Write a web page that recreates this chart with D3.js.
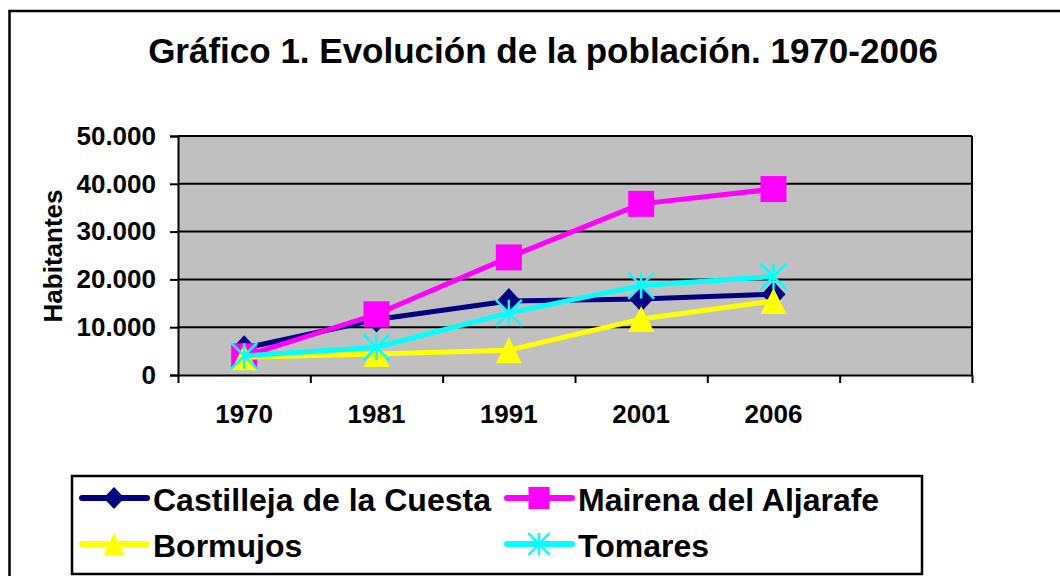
<!DOCTYPE html>
<html>
<head>
<meta charset="utf-8">
<script src="https://cdn.jsdelivr.net/npm/d3@7"></script>
<style>
  body { margin: 0; background: #fff; }
  text { font-family: Arial, "Liberation Sans", sans-serif; font-weight: bold; fill: #000; }
</style>
</head>
<body>
<div id="vis"></div>
<script>
// data
const years = ["1970", "1981", "1991", "2001", "2006"];
const slots = years.concat([""]);   // the original has one empty category at the end
const castilleja = [5600, 11600, 15500, 15900, 16900];
const mairena = [3900, 12700, 24600, 35800, 38900];
const bormujos = [3700, 4400, 5200, 11700, 15500];
const tomares = [4000, 5800, 13000, 18700, 20600];
const yTicks = [0, 10000, 20000, 30000, 40000, 50000];
const seriesNames = ["Castilleja de la Cuesta", "Mairena del Aljarafe", "Bormujos", "Tomares"];

const FRAME_WIDTH = 1060;
const FRAME_HEIGHT = 576;
const PLOT = {left: 178, right: 972, top: 136, bottom: 375};

const series = [
  {name: seriesNames[0], values: castilleja, color: "#000080", marker: "diamond"},
  {name: seriesNames[1], values: mairena, color: "#FF00FF", marker: "square"},
  {name: seriesNames[2], values: bormujos, color: "#FFFF00", marker: "triangle"},
  {name: seriesNames[3], values: tomares, color: "#00FFFF", marker: "star"}
];

const svg = d3.select("#vis")
              .append("svg")
                .attr("width", FRAME_WIDTH)
                .attr("height", FRAME_HEIGHT);

// outer chart frame (runs past the right and bottom edges)
svg.append("rect")
    .attr("x", 9.5).attr("y", 11)
    .attr("width", 1100).attr("height", 620)
    .attr("fill", "#fff")
    .attr("stroke", "#000")
    .attr("stroke-width", 2.5);

svg.append("text")
    .attr("x", 543).attr("y", 63)
    .attr("text-anchor", "middle")
    .attr("font-size", "35px")
    .text("Gráfico 1. Evolución de la población. 1970-2006");

const X_SCALE = d3.scaleBand().domain(slots).range([PLOT.left, PLOT.right]);
const X_EDGES = d3.scaleLinear().domain([0, slots.length]).range([PLOT.left, PLOT.right]);
const Y_SCALE = d3.scaleLinear().domain([0, 50000]).range([PLOT.bottom, PLOT.top]);

const esLocale = d3.formatLocale({decimal: ",", thousands: ".", grouping: [3], currency: ["", " €"]});
const fmt = esLocale.format(",");

// plot background
svg.append("rect")
    .attr("x", PLOT.left).attr("y", PLOT.top)
    .attr("width", PLOT.right - PLOT.left)
    .attr("height", PLOT.bottom - PLOT.top)
    .attr("fill", "#C0C0C0");

// gridlines
svg.append("g")
    .selectAll("line")
    .data(yTicks.slice(1))
    .enter()
    .append("line")
      .attr("x1", PLOT.left).attr("x2", PLOT.right)
      .attr("y1", d => Y_SCALE(d)).attr("y2", d => Y_SCALE(d))
      .attr("stroke", "#000")
      .attr("stroke-width", 2);

// right border of plot
svg.append("line")
    .attr("x1", PLOT.right).attr("x2", PLOT.right)
    .attr("y1", PLOT.top).attr("y2", PLOT.bottom)
    .attr("stroke", "#000").attr("stroke-width", 2);

// y axis
const yAxis = svg.append("g")
    .attr("transform", "translate(" + PLOT.left + ",0)")
    .call(d3.axisLeft(Y_SCALE).tickValues(yTicks).tickFormat(fmt).tickSize(8).tickPadding(14));
yAxis.select(".domain").attr("stroke-width", 2);
yAxis.selectAll(".tick line").attr("stroke-width", 2);
yAxis.selectAll("text")
    .attr("font-size", "26px")
    .attr("font-family", "Arial, 'Liberation Sans', sans-serif")
    .attr("font-weight", "bold");

// x axis: ticks at category edges, labels at centres
const xAxis = svg.append("g")
    .attr("transform", "translate(0," + PLOT.bottom + ")")
    .call(d3.axisBottom(X_EDGES).ticks(slots.length).tickFormat("").tickSizeInner(8).tickSizeOuter(0));
xAxis.select(".domain").attr("stroke-width", 2);
xAxis.selectAll(".tick line").attr("stroke-width", 2);

svg.append("g")
    .selectAll("text")
    .data(years)
    .enter()
    .append("text")
      .attr("x", d => X_SCALE(d) + X_SCALE.bandwidth() / 2)
      .attr("y", 423)
      .attr("text-anchor", "middle")
      .attr("font-size", "26px")
      .text(d => d);

svg.append("text")
    .attr("transform", "translate(62,256) rotate(-90)")
    .attr("text-anchor", "middle")
    .attr("font-size", "26px")
    .text("Habitantes");

// marker shapes, w x h
function drawMarker(g, type, color, w, h) {
  if (type === "diamond") {
    g.append("path")
      .attr("d", "M0," + (-h / 2) + "L" + (w / 2) + ",0L0," + (h / 2) + "L" + (-w / 2) + ",0Z")
      .attr("fill", color);
  } else if (type === "square") {
    g.append("rect")
      .attr("x", -w / 2).attr("y", -h / 2)
      .attr("width", w).attr("height", h)
      .attr("fill", color);
  } else if (type === "triangle") {
    g.append("path")
      .attr("d", "M0," + (-h / 2) + "L" + (w / 2) + "," + (h / 2) + "L" + (-w / 2) + "," + (h / 2) + "Z")
      .attr("fill", color);
  } else {
    g.append("path")
      .attr("d", "M" + (-w / 2) + "," + (-h / 2) + "L" + (w / 2) + "," + (h / 2) +
                 "M" + (w / 2) + "," + (-h / 2) + "L" + (-w / 2) + "," + (h / 2) +
                 "M0," + (-h / 2) + "L0," + (h / 2))
      .attr("stroke", color)
      .attr("stroke-width", 2.5)
      .attr("fill", "none");
  }
}

const line = d3.line()
    .x((d, i) => X_SCALE(years[i]) + X_SCALE.bandwidth() / 2)
    .y(d => Y_SCALE(d));

series.forEach(s => {
  svg.append("path")
      .datum(s.values)
      .attr("d", line)
      .attr("fill", "none")
      .attr("stroke", s.color)
      .attr("stroke-width", 5)
      .attr("stroke-linejoin", "round");

  s.values.forEach((v, i) => {
    const g = svg.append("g")
        .attr("transform", "translate(" + (X_SCALE(years[i]) + X_SCALE.bandwidth() / 2) + "," + Y_SCALE(v) + ")");
    drawMarker(g, s.marker, s.color, s.marker === "diamond" ? 24 : 26, 26);
  });
});

// legend
svg.append("rect")
    .attr("x", 72).attr("y", 476)
    .attr("width", 850).attr("height", 98)
    .attr("fill", "#fff")
    .attr("stroke", "#000")
    .attr("stroke-width", 2.5);

const legendPos = [
  {x: 82, y: 498}, {x: 507, y: 498},
  {x: 82, y: 544}, {x: 507, y: 544}
];

series.forEach((s, i) => {
  const p = legendPos[i];
  const g = svg.append("g").attr("transform", "translate(" + p.x + "," + p.y + ")");
  g.append("line")
      .attr("x1", 0).attr("x2", 65)
      .attr("stroke", s.color)
      .attr("stroke-width", 6)
      .attr("stroke-linecap", "round");
  drawMarker(g.append("g").attr("transform", "translate(32,0)"), s.marker, s.color, 21, 22);
  g.append("text")
      .attr("x", 71).attr("y", 13)
      .attr("font-size", "32px")
      .text(s.name);
});
</script>
</body>
</html>
